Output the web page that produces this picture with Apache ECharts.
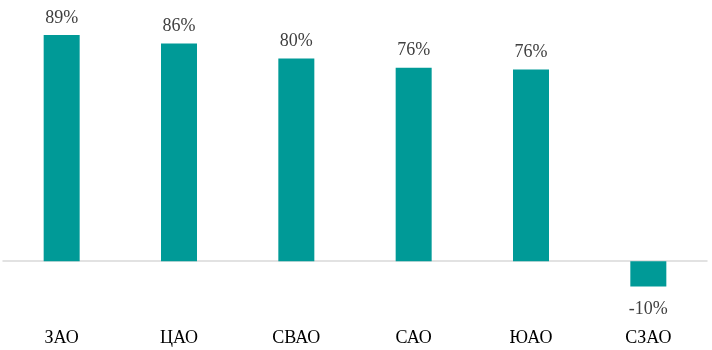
<!DOCTYPE html>
<html><head><meta charset="utf-8">
<script src="https://cdn.jsdelivr.net/npm/echarts@6/dist/echarts.min.js"></script>
<style>html,body{margin:0;padding:0;background:#fff}#c{width:712px;height:350px}</style>
</head><body><div id="c"></div>
<script>
const categories = ['ЗАО', 'ЦАО', 'СВАО', 'САО', 'ЮАО', 'СЗАО'];
const values = [89, 85.6, 79.7, 76.1, 75.4, -10];
const valueLabels = ['89%', '86%', '80%', '76%', '76%', '-10%'];

const chart = echarts.init(document.getElementById('c'), null, {renderer: 'canvas'});
const font = '"Liberation Serif", "Times New Roman", serif';
chart.setOption({
  animation: false,
  grid: {left: 3, right: 5, top: 7, bottom: 38},
  xAxis: [
    {type: 'category', data: categories,
     axisLine: {onZero: true, lineStyle: {color: '#D9D9D9', width: 1.5}},
     axisTick: {show: false}, axisLabel: {show: false}},
    {type: 'category', data: categories, position: 'bottom',
     axisLine: {show: false, onZero: false}, axisTick: {show: false},
     axisLabel: {margin: 17, color: '#000', fontFamily: font, fontSize: 18}}
  ],
  yAxis: {type: 'value', min: -20, max: 100, show: false, splitLine: {show: false}},
  series: [{
    type: 'bar', xAxisIndex: 0, barWidth: 36,
    data: values.map(v => v < 0
      ? {value: v, label: {position: 'bottom', distance: 14}}
      : {value: v}),
    itemStyle: {color: '#009A97'},
    label: {show: true, position: 'top', distance: 8, formatter: p => valueLabels[p.dataIndex],
      color: '#404040', fontFamily: font, fontSize: 18}
  }]
});
</script></body></html>
